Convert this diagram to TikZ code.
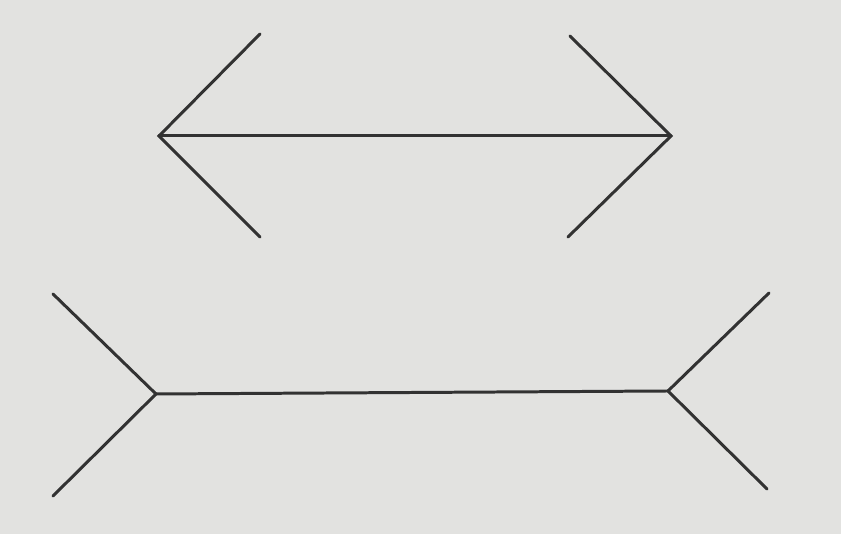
\documentclass[tikz,border=0pt]{standalone}
\usepackage{tikz}
\usetikzlibrary{positioning,calc}
\usepackage{xcolor}
\definecolor{paper}{RGB}{226,226,224}
\definecolor{ink}{RGB}{50,50,50}

\begin{document}
\begin{tikzpicture}[x=0.01cm,y=-0.01cm]
\tikzstyle{fin}=[draw=ink,line width=0.85pt,line cap=round,line join=miter]
\fill[paper] (0,0) rectangle (841,534);
\useasboundingbox (0,0) rectangle (841,534);
% top figure (arrow heads pointing out)
\coordinate (tl) at (159,136);
\coordinate (tr) at (671,136);
\coordinate (tlu) at (260,34);
\coordinate (tld) at (260,237);
\coordinate (tru) at (570,36);
\coordinate (trd) at (568,237);
\draw[fin] (tl) -- (tr);
\draw[fin] (tlu) -- (tl) -- (tld);
\draw[fin] (tru) -- (tr) -- (trd);
% bottom figure (fins pointing in)
\coordinate (bl) at (156,394);
\coordinate (br) at (668,391);
\coordinate (blu) at (53,294);
\coordinate (bld) at (53,496);
\coordinate (bru) at (769,293);
\coordinate (brd) at (767,489);
\draw[fin] (bl) -- (br);
\draw[fin] (blu) -- (bl) -- (bld);
\draw[fin] (bru) -- (br) -- (brd);
\end{tikzpicture}
\end{document}
